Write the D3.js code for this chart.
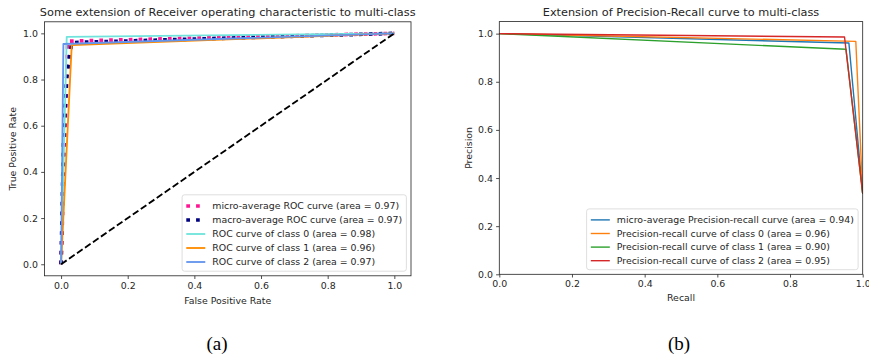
<!DOCTYPE html>
<html>
<head>
<meta charset="utf-8">
<script src="https://cdn.jsdelivr.net/npm/d3@7"></script>
<style>
  body { margin: 0; background: #fff; }
  text { font-family: "DejaVu Sans", sans-serif; fill: #262626; }
</style>
</head>
<body>
<div id="chart"></div>
<script>
// ROC panel (a)
const rocNames = ["micro-average ROC curve", "macro-average ROC curve",
  "ROC curve of class 0", "ROC curve of class 1", "ROC curve of class 2"];
const rocAreas = [0.97, 0.97, 0.98, 0.96, 0.97];
const microFpr = [0, 0.02, 1];
const microTpr = [0, 0.966, 1];
const macroFpr = [0, 0.007, 0.017, 0.032, 1];
const macroTpr = [0, 0.52, 0.81, 0.96, 1];
const class0Fpr = [0, 0.017, 1];
const class0Tpr = [0, 0.985, 1];
const class1Fpr = [0, 0.032, 1];
const class1Tpr = [0, 0.949, 1];
const class2Fpr = [0, 0.007, 1];
const class2Tpr = [0, 0.954, 1];
const chanceLine = [0, 1];

// Precision-recall panel (b)
const prNames = ["micro-average Precision-recall curve", "Precision-recall curve of class 0",
  "Precision-recall curve of class 1", "Precision-recall curve of class 2"];
const prAreas = [0.94, 0.96, 0.90, 0.95];
const prMicroRecall = [0, 0.962, 1];
const prMicroPrecision = [1, 0.961, 0.335];
const prClass0Recall = [0, 0.981, 1];
const prClass0Precision = [1, 0.968, 0.335];
const prClass1Recall = [0, 0.954, 1];
const prClass1Precision = [1, 0.935, 0.335];
const prClass2Recall = [0, 0.950, 1];
const prClass2Precision = [1, 0.986, 0.335];

const ticks = [0, 0.2, 0.4, 0.6, 0.8, 1.0];

const width = 869, height = 361;
const fs = 9.4;

const svg = d3.select("#chart").append("svg")
  .attr("width", width).attr("height", height);

const zip = (xs, ys) => xs.map((v, i) => [v, ys[i]]);

function panel(opts) {
  const x = d3.scaleLinear().domain(opts.xDomain).range(opts.xRange);
  const y = d3.scaleLinear().domain(opts.yDomain).range(opts.yRange);
  const g = svg.append("g");

  const clipId = "clip-" + opts.id;
  g.append("clipPath").attr("id", clipId).append("rect")
    .attr("x", opts.xRange[0]).attr("y", opts.yRange[1])
    .attr("width", opts.xRange[1] - opts.xRange[0])
    .attr("height", opts.yRange[0] - opts.yRange[1]);

  const line = d3.line().x(d => x(d[0])).y(d => y(d[1]));
  const plot = g.append("g").attr("clip-path", `url(#${clipId})`);
  opts.series.forEach(s => {
    plot.append("path")
      .datum(s.points)
      .attr("d", line)
      .attr("fill", "none")
      .attr("stroke", s.color)
      .attr("stroke-width", s.width)
      .attr("stroke-dasharray", s.dash || null)
      .attr("stroke-linejoin", "round");
  });

  g.append("g")
    .attr("transform", `translate(0,${opts.yRange[0]})`)
    .call(d3.axisBottom(x).tickValues(ticks).tickFormat(d3.format(".1f"))
      .tickSize(3.2).tickPadding(3.2))
    .call(a => a.select(".domain").remove())
    .call(a => a.selectAll("line").attr("stroke", "#222").attr("stroke-width", 0.8))
    .call(a => a.selectAll("text").attr("font-size", fs).attr("font-family", null).attr("fill", "#262626"));

  g.append("g")
    .attr("transform", `translate(${opts.xRange[0]},0)`)
    .call(d3.axisLeft(y).tickValues(ticks).tickFormat(d3.format(".1f"))
      .tickSize(3.2).tickPadding(3.2))
    .call(a => a.select(".domain").remove())
    .call(a => a.selectAll("line").attr("stroke", "#222").attr("stroke-width", 0.8))
    .call(a => a.selectAll("text").attr("font-size", fs).attr("font-family", null).attr("fill", "#262626"));

  g.append("rect")
    .attr("x", opts.xRange[0]).attr("y", opts.yRange[1])
    .attr("width", opts.xRange[1] - opts.xRange[0])
    .attr("height", opts.yRange[0] - opts.yRange[1])
    .attr("fill", "none").attr("stroke", "#222").attr("stroke-width", 0.8);

  const cx = (opts.xRange[0] + opts.xRange[1]) / 2;
  g.append("text").attr("x", cx).attr("y", 15.5)
    .attr("text-anchor", "middle").attr("font-size", 11.3)
    .text(opts.title);
  g.append("text").attr("x", cx).attr("y", opts.xLabelY)
    .attr("text-anchor", "middle").attr("font-size", fs)
    .text(opts.xLabel);
  const cy = (opts.yRange[0] + opts.yRange[1]) / 2;
  g.append("text")
    .attr("transform", `translate(${opts.yLabelX},${cy}) rotate(-90)`)
    .attr("text-anchor", "middle").attr("font-size", fs)
    .text(opts.yLabel);

  // legend, lower right
  const rowH = opts.rowH, pad = 4.2;
  const items = opts.series.filter(s => s.label);
  const leg = g.append("g");
  const box = leg.append("rect");
  const texts = items.map((s, i) => leg.append("text")
    .attr("font-size", fs).attr("dy", "0.35em")
    .text(s.label));
  const tw = d3.max(texts, t => t.node().getComputedTextLength());
  const right = opts.xRange[1] - 4.6, bottom = opts.yRange[0] - 4.6;
  const bh = items.length * rowH + 2 * pad - 2;
  const textX = right - pad - tw;
  const handleX1 = textX - 7, handleX0 = handleX1 - 19;
  const left = handleX0 - pad;
  const top = bottom - bh;
  box.attr("x", left).attr("y", top).attr("width", right - left).attr("height", bh)
    .attr("rx", 2.5).attr("fill", "#fff").attr("fill-opacity", 0.85)
    .attr("stroke", "#d5d5d5").attr("stroke-width", 0.8);
  items.forEach((s, i) => {
    const ry = top + pad + rowH / 2 + i * rowH;
    texts[i].attr("x", textX).attr("y", ry);
    leg.append("line")
      .attr("x1", handleX0).attr("x2", handleX1).attr("y1", ry).attr("y2", ry)
      .attr("stroke", s.color).attr("stroke-width", s.width)
      .attr("stroke-dasharray", s.dash || null);
  });
}

panel({
  id: "roc",
  xDomain: [-0.05, 1.05], xRange: [44.4, 411],
  yDomain: [-0.05, 1.05], yRange: [275.8, 21.8],
  title: "Some extension of Receiver operating characteristic to multi-class",
  xLabel: "False Positive Rate", xLabelY: 303.5,
  yLabel: "True Positive Rate", yLabelX: 15.5,
  rowH: 14,
  series: [
    { points: zip(microFpr, microTpr), color: "deeppink", width: 3.7, dash: "3.7 6.1",
      label: `${rocNames[0]} (area = ${rocAreas[0].toFixed(2)})` },
    { points: zip(macroFpr, macroTpr), color: "navy", width: 3.7, dash: "3.7 6.1",
      label: `${rocNames[1]} (area = ${rocAreas[1].toFixed(2)})` },
    { points: zip(class0Fpr, class0Tpr), color: "#70e4dc", width: 1.85,
      label: `${rocNames[2]} (area = ${rocAreas[2].toFixed(2)})` },
    { points: zip(class1Fpr, class1Tpr), color: "darkorange", width: 1.85,
      label: `${rocNames[3]} (area = ${rocAreas[3].toFixed(2)})` },
    { points: zip(class2Fpr, class2Tpr), color: "cornflowerblue", width: 1.85,
      label: `${rocNames[4]} (area = ${rocAreas[4].toFixed(2)})` },
    { points: zip(chanceLine, chanceLine), color: "black", width: 1.85, dash: "6.8 2.9" }
  ]
});

panel({
  id: "pr",
  xDomain: [0, 1], xRange: [499.3, 862.7],
  yDomain: [0, 1.05], yRange: [274.3, 21.6],
  title: "Extension of Precision-Recall curve to multi-class",
  xLabel: "Recall", xLabelY: 301,
  yLabel: "Precision", yLabelX: 472,
  rowH: 13.6,
  series: [
    { points: zip(prMicroRecall, prMicroPrecision), color: "#1f77b4", width: 1.4,
      label: `${prNames[0]} (area = ${prAreas[0].toFixed(2)})` },
    { points: zip(prClass0Recall, prClass0Precision), color: "#ff7f0e", width: 1.4,
      label: `${prNames[1]} (area = ${prAreas[1].toFixed(2)})` },
    { points: zip(prClass1Recall, prClass1Precision), color: "#2ca02c", width: 1.4,
      label: `${prNames[2]} (area = ${prAreas[2].toFixed(2)})` },
    { points: zip(prClass2Recall, prClass2Precision), color: "#d62728", width: 1.4,
      label: `${prNames[3]} (area = ${prAreas[3].toFixed(2)})` }
  ]
});

// sub-figure captions
svg.append("text").attr("x", 217).attr("y", 350).attr("text-anchor", "middle")
  .style("font-family", "'Liberation Serif', serif").attr("font-size", 19).style("fill", "#000")
  .text("(a)");
svg.append("text").attr("x", 679).attr("y", 350).attr("text-anchor", "middle")
  .style("font-family", "'Liberation Serif', serif").attr("font-size", 19).style("fill", "#000")
  .text("(b)");
</script>
</body>
</html>
